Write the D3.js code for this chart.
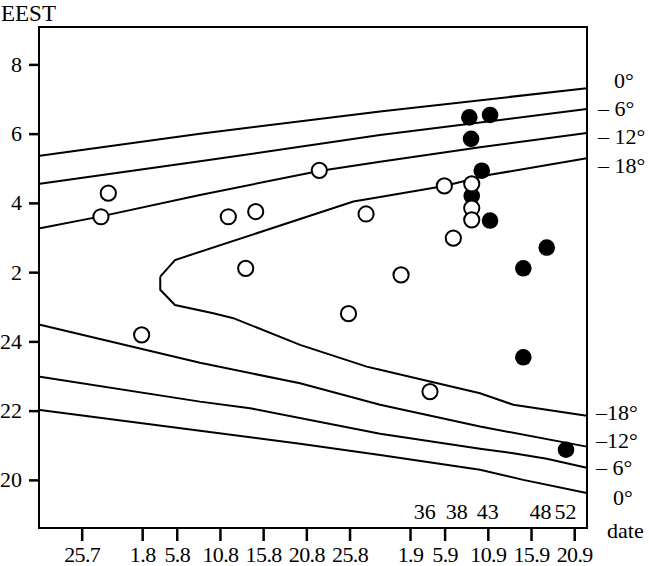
<!DOCTYPE html>
<html>
<head>
<meta charset="utf-8">
<script src="https://cdn.jsdelivr.net/npm/d3@7"></script>
<style>
  body { margin: 0; background: #fff; }
  svg { display: block; }
  text { font-family: "Liberation Serif", "Times New Roman", serif; fill: #000; }
</style>
</head>
<body>
<svg id="chart" width="649" height="566"></svg>
<script>
// dates as day of year, times as hours (24 + h after midnight)
var dateTicks = [206, 213, 217, 222, 227, 232, 237, 244, 248, 253, 258, 263];
var dateLabels = ["25.7", "1.8", "5.8", "10.8", "15.8", "20.8", "25.8", "1.9", "5.9", "10.9", "15.9", "20.9"];
var hourTicks = [20, 22, 24, 26, 28, 30, 32];
var hourLabels = ["20", "22", "24", "2", "4", "6", "8"];

var openDays = [208.23, 209.08, 212.94, 222.97, 226.14, 224.98, 233.50, 238.91, 236.88, 242.96, 246.31, 247.97, 249.01, 251.14, 251.14, 251.14];
var openHours = [27.60, 28.28, 24.19, 27.60, 27.75, 26.11, 28.94, 27.68, 24.80, 25.92, 22.55, 28.49, 26.98, 28.55, 27.85, 27.51];

var filledDays = [250.86, 253.26, 251.06, 252.30, 251.14, 253.26, 257.11, 259.82, 257.11, 262.05];
var filledHours = [30.47, 30.54, 29.85, 28.93, 28.20, 27.49, 26.11, 26.71, 23.54, 20.87];

// sun elevation curves [day, hour]
var morning0 = [[201.17, 29.36], [219.69, 30.00], [240.53, 30.64], [264.45, 31.31]];
var morning6 = [[201.17, 28.55], [219.69, 29.20], [240.53, 29.96], [264.45, 30.71]];
var morning12 = [[201.17, 27.27], [208.23, 27.61], [219.69, 28.23], [233.47, 28.92], [240.53, 29.19], [252.10, 29.61], [264.45, 30.02]];
var morning18 = [[215.09, 25.87], [216.80, 26.35], [237.44, 28.04], [240.53, 28.17], [247.97, 28.49], [253.24, 28.81], [264.45, 29.29]];
var evening18 = [[215.09, 25.87], [215.09, 25.49], [216.80, 25.05], [221.23, 24.81], [223.55, 24.67], [231.27, 23.90], [238.99, 23.27], [240.53, 23.18], [246.31, 22.84], [252.10, 22.50], [255.95, 22.17], [264.45, 21.85]];
var evening12 = [[201.17, 24.48], [219.69, 23.38], [231.27, 22.79], [240.53, 22.17], [252.10, 21.54], [264.45, 20.96]];
var evening6 = [[201.17, 22.98], [219.69, 22.26], [225.48, 22.07], [240.53, 21.33], [252.10, 20.90], [255.95, 20.77], [259.82, 20.61], [264.45, 20.35]];
var evening0 = [[201.17, 22.02], [219.69, 21.42], [231.27, 21.04], [240.53, 20.72], [252.10, 20.29], [257.11, 20.00], [264.45, 19.62]];

var topLabels = ["0°", "– 6°", "– 12°", "– 18°"];
var topLabelHours = [31.55, 30.72, 29.91, 29.10];
var bottomLabels = ["–18°", "–12°", "– 6°", "0°"];
var bottomLabelHours = [21.94, 21.13, 20.35, 19.51];

var countLabels = ["36", "38", "43", "48", "52"];
var countDays = [245.7, 249.4, 253.0, 259.1, 262.0];

(function () {
    var svg = d3.select('#chart');
    var plot = { left: 39, right: 587, top: 27, bottom: 528 };

    var x = d3.scaleLinear().domain([201.06, 264.48]).range([plot.left, plot.right]);
    var y = d3.scaleLinear().domain([18.61, 33.08]).range([plot.bottom, plot.top]);

    svg.append('clipPath').attr('id', 'plot')
        .append('rect')
        .attr('x', plot.left).attr('y', plot.top)
        .attr('width', plot.right - plot.left).attr('height', plot.bottom - plot.top);

    var line = d3.line()
        .x(function (d) { return x(d[0]); })
        .y(function (d) { return y(d[1]); });

    var curves = [morning0, morning6, morning12, morning18, evening18, evening12, evening6, evening0];
    svg.append('g').attr('clip-path', 'url(#plot)')
        .selectAll('path').data(curves).enter().append('path')
        .attr('d', line)
        .attr('fill', 'none')
        .attr('stroke', '#000')
        .attr('stroke-width', 2);

    // filled first, open circles sit on top
    svg.append('g').selectAll('circle').data(filledDays).enter().append('circle')
        .attr('cx', function (d) { return x(d); })
        .attr('cy', function (d, i) { return y(filledHours[i]); })
        .attr('r', 8.3)
        .attr('fill', '#000');

    svg.append('g').selectAll('circle').data(openDays).enter().append('circle')
        .attr('cx', function (d) { return x(d); })
        .attr('cy', function (d, i) { return y(openHours[i]); })
        .attr('r', 7.6)
        .attr('fill', '#fff')
        .attr('stroke', '#000')
        .attr('stroke-width', 2);

    // frame
    svg.append('rect')
        .attr('x', plot.left).attr('y', plot.top)
        .attr('width', plot.right - plot.left).attr('height', plot.bottom - plot.top)
        .attr('fill', 'none')
        .attr('stroke', '#000')
        .attr('stroke-width', 2);

    var yAxis = svg.append('g')
        .attr('transform', 'translate(' + plot.left + ',0)')
        .call(d3.axisLeft(y).tickValues(hourTicks)
            .tickFormat(function (d, i) { return hourLabels[i]; })
            .tickSize(10).tickPadding(7));

    var xAxis = svg.append('g')
        .attr('transform', 'translate(0,' + plot.bottom + ')')
        .call(d3.axisBottom(x).tickValues(dateTicks)
            .tickFormat(function (d, i) { return dateLabels[i]; })
            .tickSize(13).tickPadding(5));

    [yAxis, xAxis].forEach(function (a) {
        a.select('.domain').remove();
        a.selectAll('.tick line').attr('stroke', '#000').attr('stroke-width', 2.5);
        a.selectAll('.tick text')
            .style('font-family', '"Liberation Serif", "Times New Roman", serif')
            .style('font-size', '22px')
            .attr('fill', '#000');
    });
    xAxis.selectAll('.tick text').style('letter-spacing', '-0.6px');

    svg.append('text').attr('x', 1).attr('y', 20.5)
        .style('font-size', '23px').text('EEST');
    svg.append('text').attr('x', 607).attr('y', 538)
        .style('font-size', '22px').text('date');

    svg.append('g').selectAll('text').data(topLabels).enter().append('text')
        .attr('x', function (d, i) { return i === 0 ? 614 : 598; })
        .attr('y', function (d, i) { return y(topLabelHours[i]); })
        .attr('dy', '0.35em')
        .style('font-size', '22px')
        .text(function (d) { return d; });

    svg.append('g').selectAll('text').data(bottomLabels).enter().append('text')
        .attr('x', function (d, i) { return i === 3 ? 613 : 596; })
        .attr('y', function (d, i) { return y(bottomLabelHours[i]); })
        .attr('dy', '0.35em')
        .style('font-size', '22px')
        .text(function (d) { return d; });

    svg.append('g').selectAll('text').data(countLabels).enter().append('text')
        .attr('x', function (d, i) { return x(countDays[i]); })
        .attr('y', 519)
        .attr('text-anchor', 'middle')
        .style('font-size', '22px')
        .text(function (d) { return d; });
})();
</script>
</body>
</html>
